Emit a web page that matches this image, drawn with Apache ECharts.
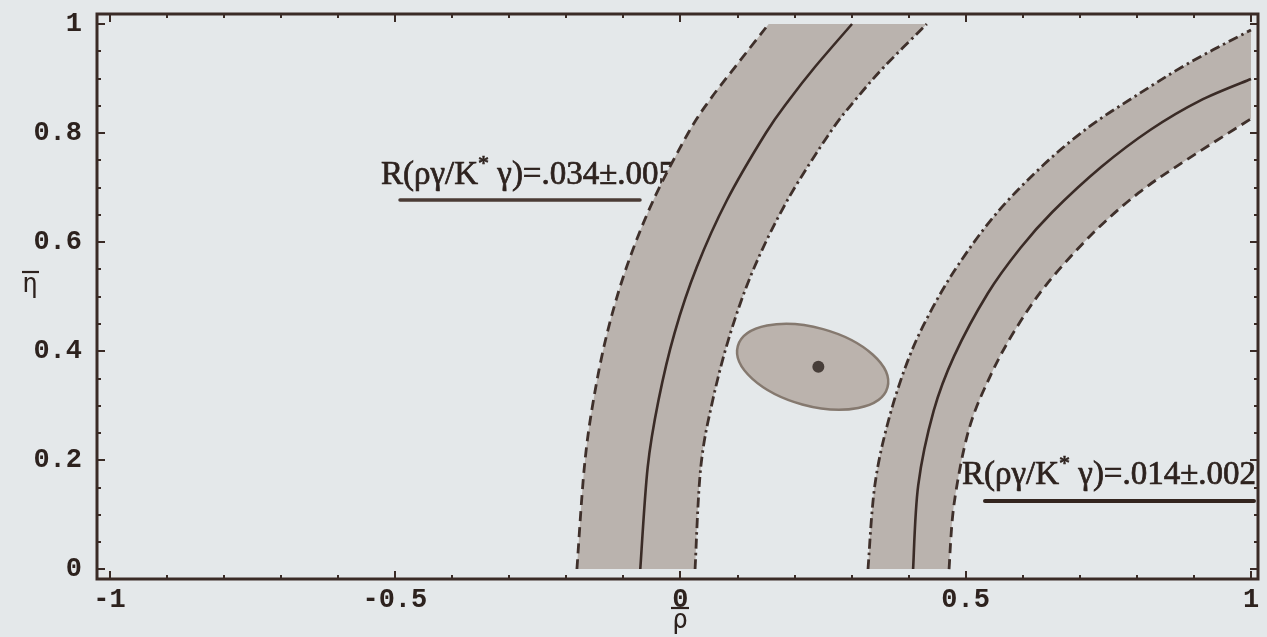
<!DOCTYPE html>
<html>
<head>
<meta charset="utf-8">
<script src="https://cdn.jsdelivr.net/npm/echarts@6/dist/echarts.min.js"></script>
<style>
  html, body { margin: 0; padding: 0; background: #e4e8ea; }
  #chart { width: 1267px; height: 637px; }
</style>
</head>
<body>
<div id="chart"></div>
<script>
// ---- axis ticks and labels ----
const xMajorTicks = [-1, -0.5, 0, 0.5, 1];
const xTickLabels = ['-1', '-0.5', '0', '0.5', '1'];
const xMinorTicks = [-1, -0.9, -0.8, -0.7, -0.6, -0.5, -0.4, -0.3, -0.2, -0.1, 0,
                     0.1, 0.2, 0.3, 0.4, 0.5, 0.6, 0.7, 0.8, 0.9, 1];
const yMajorTicks = [0, 0.2, 0.4, 0.6, 0.8, 1];
const yTickLabels = ['0', '0.2', '0.4', '0.6', '0.8', '1'];
const yMinorTicks = [0, 0.05, 0.1, 0.15, 0.2, 0.25, 0.3, 0.35, 0.4, 0.45, 0.5,
                     0.55, 0.6, 0.65, 0.7, 0.75, 0.8, 0.85, 0.9, 0.95, 1];

// ---- R(ργ/K*γ) = .034 ± .005 band, [rho, eta] ----
const bandHighOuter = [[-0.181, 0], [-0.168, 0.187], [-0.152, 0.310], [-0.128, 0.433],
  [-0.094, 0.554], [-0.047, 0.677], [0.014, 0.800], [0.052, 0.861], [0.096, 0.921], [0.155, 1.0]];
const bandHighCentral = [[-0.070, 0], [-0.057, 0.187], [-0.038, 0.310], [-0.010, 0.433],
  [0.029, 0.554], [0.082, 0.677], [0.150, 0.800], [0.191, 0.861], [0.236, 0.921], [0.301, 1.0]];
const bandHighInner = [[0.026, 0], [0.036, 0.187], [0.057, 0.310], [0.088, 0.433],
  [0.130, 0.554], [0.188, 0.677], [0.262, 0.800], [0.307, 0.861], [0.357, 0.921], [0.432, 1.0]];

// ---- R(ργ/K*γ) = .014 ± .002 band ----
const bandLowOuter = [[0.329, 0], [0.341, 0.154], [0.366, 0.277], [0.402, 0.391], [0.442, 0.479],
  [0.489, 0.561], [0.556, 0.655], [0.638, 0.743], [0.716, 0.811], [0.795, 0.866], [0.889, 0.927], [1.0, 0.989]];
const bandLowCentral = [[0.408, 0], [0.417, 0.154], [0.444, 0.290], [0.480, 0.391], [0.539, 0.506],
  [0.596, 0.589], [0.652, 0.655], [0.738, 0.738], [0.824, 0.806], [0.910, 0.859], [1.0, 0.899]];
const bandLowInner = [[0.471, 0], [0.480, 0.121], [0.506, 0.257], [0.545, 0.358], [0.587, 0.439],
  [0.641, 0.521], [0.722, 0.615], [0.803, 0.690], [0.886, 0.750], [1.0, 0.826]];

// ---- allowed region from the global fit ----
const fitCenter = [0.232, 0.371];
const fitSemiAxes = [0.136, 0.0717];   // along rho, along eta
const fitTiltDeg = 15.4;
const bestFit = [[0.242, 0.371]];

// ---- styling ----
const INK = '#3a2b26';
const TEXT = '#2d221e';
const EDGE = '#3f302b';
const BAND_FILL = '#bab3ae';
const DASH = [10, 6];
const DASH_DOT = [10, 4, 2.5, 4];

// Catmull-Rom through pixel points, emitted as cubic Bezier path commands
function curveCmds(pts, start) {
  let d = (start ? 'M' : 'L') + pts[0][0] + ' ' + pts[0][1];
  for (let i = 0; i < pts.length - 1; i++) {
    const p0 = pts[i - 1] || pts[i], p1 = pts[i], p2 = pts[i + 1], p3 = pts[i + 2] || pts[i + 1];
    const c1 = [p1[0] + (p2[0] - p0[0]) / 6, p1[1] + (p2[1] - p0[1]) / 6];
    const c2 = [p2[0] - (p3[0] - p1[0]) / 6, p2[1] - (p3[1] - p1[1]) / 6];
    d += ' C' + c1[0] + ' ' + c1[1] + ' ' + c2[0] + ' ' + c2[1] + ' ' + p2[0] + ' ' + p2[1];
  }
  return d;
}

function bandSeries(outer, central, inner, outerDash, innerDash) {
  return {
    type: 'custom',
    coordinateSystem: 'cartesian2d',
    clip: true,
    silent: true,
    data: [0],
    renderItem: function (params, api) {
      const o = outer.map(p => api.coord(p));
      const c = central.map(p => api.coord(p));
      const n = inner.map(p => api.coord(p));
      const fill = curveCmds(o, true) + ' ' + curveCmds(n.slice().reverse(), false) + ' Z';
      return {
        type: 'group',
        children: [
          { type: 'path', shape: { pathData: fill }, style: { fill: BAND_FILL, stroke: null } },
          { type: 'path', shape: { pathData: curveCmds(o, true) },
            style: { fill: null, stroke: EDGE, lineWidth: 2.8, lineDash: outerDash } },
          { type: 'path', shape: { pathData: curveCmds(n, true) },
            style: { fill: null, stroke: EDGE, lineWidth: 2.8, lineDash: innerDash } },
          { type: 'path', shape: { pathData: curveCmds(c, true) },
            style: { fill: null, stroke: INK, lineWidth: 2.6 } }
        ]
      };
    }
  };
}

const tickFont = { fontFamily: 'Liberation Mono', fontSize: 27, fontWeight: 'bold', color: TEXT };

function xAxisCfg(position, ticks, len, withLabels) {
  return {
    type: 'value', position: position, min: -1.0219, max: 1.0123,
    axisLine: { show: false, onZero: false }, splitLine: { show: false },
    axisTick: { show: true, inside: true, length: len, customValues: ticks,
                lineStyle: { color: INK, width: 2 } },
    axisLabel: withLabels ? Object.assign({
      show: true, customValues: xMajorTicks, margin: 8,
      formatter: v => xTickLabels[xMajorTicks.findIndex(t => Math.abs(t - v) < 1e-6)]
    }, tickFont) : { show: false }
  };
}
function yAxisCfg(position, ticks, len, withLabels) {
  return {
    type: 'value', position: position, min: -0.0183, max: 1.0183,
    axisLine: { show: false, onZero: false }, splitLine: { show: false },
    axisTick: { show: true, inside: true, length: len, customValues: ticks,
                lineStyle: { color: INK, width: 2 } },
    axisLabel: withLabels ? Object.assign({
      show: true, customValues: yMajorTicks, margin: 15,
      formatter: v => yTickLabels[yMajorTicks.findIndex(t => Math.abs(t - v) < 1e-6)]
    }, tickFont) : { show: false }
  };
}

const chart = echarts.init(document.getElementById('chart'), null, { renderer: 'canvas' });

const labelRich = {
  a: { fontFamily: 'Liberation Serif', fontSize: 33, fill: TEXT, stroke: TEXT, lineWidth: 0.7 },
  s: { fontFamily: 'Liberation Serif', fontSize: 22, fill: TEXT, stroke: TEXT, lineWidth: 0.7,
       padding: [0, 0, 22, 0] }
};

chart.setOption({
  backgroundColor: '#e4e8ea',
  animation: false,
  grid: {
    left: 97, right: 9, top: 14, bottom: 58,
    show: true, borderColor: INK, borderWidth: 3, backgroundColor: 'transparent'
  },
  xAxis: [
    xAxisCfg('bottom', xMajorTicks, 8, true),
    xAxisCfg('bottom', xMinorTicks, 4, false),
    xAxisCfg('top', xMajorTicks, 8, false),
    xAxisCfg('top', xMinorTicks, 4, false)
  ],
  yAxis: [
    yAxisCfg('left', yMajorTicks, 8, true),
    yAxisCfg('left', yMinorTicks, 4, false),
    yAxisCfg('right', yMajorTicks, 8, false),
    yAxisCfg('right', yMinorTicks, 4, false)
  ],
  series: [
    bandSeries(bandHighOuter, bandHighCentral, bandHighInner, DASH, DASH_DOT),
    bandSeries(bandLowOuter, bandLowCentral, bandLowInner, DASH_DOT, DASH),
    {
      type: 'custom',
      coordinateSystem: 'cartesian2d',
      silent: true,
      data: [fitCenter],
      renderItem: function (params, api) {
        const c = api.coord([api.value(0), api.value(1)]);
        const rx = api.size([fitSemiAxes[0], 0])[0];
        const ry = api.size([0, fitSemiAxes[1]])[1];
        return {
          type: 'ellipse',
          x: c[0], y: c[1],
          rotation: -fitTiltDeg * Math.PI / 180,
          shape: { cx: 0, cy: 0, rx: rx, ry: ry },
          style: { fill: '#bbb3ad', stroke: '#85796f', lineWidth: 2.5 }
        };
      }
    },
    {
      type: 'scatter',
      data: bestFit,
      symbol: 'circle',
      symbolSize: 12,
      silent: true,
      itemStyle: { color: '#2b201c' }
    }
  ],
  graphic: [
    {
      type: 'text', x: 381, y: 175, silent: true,
      style: {
        text: '{a|R(ργ/K}{s|*}{a| γ)=.034±.005}',
        rich: labelRich, textVerticalAlign: 'middle'
      }
    },
    { type: 'line', silent: true, shape: { x1: 400, y1: 200, x2: 640, y2: 200 },
      style: { stroke: '#4a3b35', lineWidth: 3.5, lineCap: 'round' } },
    {
      type: 'text', x: 962, y: 475, silent: true,
      style: {
        text: '{a|R(ργ/K}{s|*}{a| γ)=.014±.002}',
        rich: labelRich, textVerticalAlign: 'middle'
      }
    },
    { type: 'line', silent: true, shape: { x1: 985, y1: 501, x2: 1254, y2: 501 },
      style: { stroke: '#33251f', lineWidth: 4, lineCap: 'round' } },
    // horizontal-axis title: rho-bar
    {
      type: 'text', x: 680, y: 621, silent: true,
      style: { text: 'ρ', font: '26px "DejaVu Sans Mono"', fill: TEXT,
               textAlign: 'center', textVerticalAlign: 'middle' }
    },
    { type: 'line', silent: true, shape: { x1: 671, y1: 608, x2: 689, y2: 608 },
      style: { stroke: TEXT, lineWidth: 2.2 } },
    // vertical-axis title: eta-bar
    {
      type: 'text', x: 30, y: 285, silent: true,
      style: { text: 'η', font: '26px "DejaVu Sans Mono"', fill: TEXT,
               textAlign: 'center', textVerticalAlign: 'middle' }
    },
    { type: 'line', silent: true, shape: { x1: 22, y1: 272, x2: 39, y2: 272 },
      style: { stroke: TEXT, lineWidth: 2.2 } }
  ]
});
</script>
</body>
</html>
